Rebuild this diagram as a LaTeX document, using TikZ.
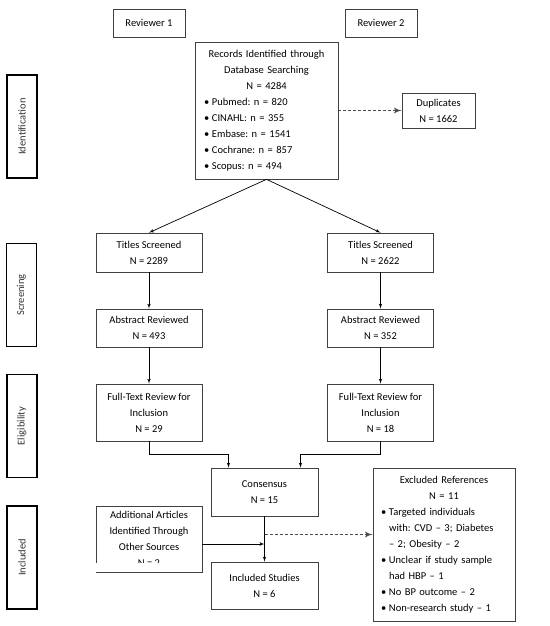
\documentclass[tikz,border=0pt]{standalone}
\usepackage{fontspec}
\setmainfont{Carlito}
\usetikzlibrary{arrows}
\newcommand{\listdot}{\makebox[8pt][l]{\textbullet}}
\newcommand{\listgap}{\hspace*{8pt}}
\frenchspacing
\begin{document}
\begin{tikzpicture}[x=1pt,y=-1pt]

\tikzset{box/.style = {draw=black!75, line width=0.7pt, align=center, inner sep=0pt, font=\fontsize{10.5}{16}\selectfont}}
\tikzset{stage/.style = {draw, line width=1.8pt, rotate=90, minimum width=103pt, minimum height=30pt, inner sep=0pt, text=black!80, font=\fontsize{10.5}{16}\selectfont}}
\tikzset{arr/.style = {->, > = latex', line width=0.7pt}}
\tikzset{dasharr/.style = {->, > = latex', line width=1.6pt, draw=black!70, dash pattern=on 3pt off 2pt}}
\useasboundingbox (0,0) rectangle (549,626);
%stages
\node[stage] (ident) at (22,126.5) {Identification};
\node[stage] (screen) at (21.5,295) {Screening};
\node[stage] (elig) at (22,426) {Eligibility};
\node[stage] (incl) at (22,557.5) {Included};
%reviewers
\node[box, minimum width=72pt, minimum height=28pt] (rev1) at (149,23) {Reviewer 1};
\node[box, minimum width=72pt, minimum height=28pt] (rev2) at (381,23) {Reviewer 2};
%identification
\node[box, text width=125pt, inner xsep=9pt, minimum height=137pt] (records) at (266.5,110.5)
  {\centering Records Identified through\\ Database Searching\\ N = 4284\par
   \raggedright \listdot Pubmed: n = 820\\ \listdot CINAHL: n = 355\\ \listdot Embase: n = 1541\\
   \listdot Cochrane: n = 857\\ \listdot Scopus: n = 494\par};
\node[box, minimum width=73pt, minimum height=35pt] (dup) at (438.5,110.5) {Duplicates\\ N = 1662};
%screening
\node[box, minimum width=106pt, minimum height=39pt] (titlesL) at (149,252.5) {Titles Screened\\ N = 2289};
\node[box, minimum width=106pt, minimum height=39pt] (titlesR) at (380.5,252.5) {Titles Screened\\ N = 2622};
\node[box, minimum width=106pt, minimum height=38pt] (absL) at (149,328) {Abstract Reviewed\\ N = 493};
\node[box, minimum width=106pt, minimum height=38pt] (absR) at (380.5,328) {Abstract Reviewed\\ N = 352};
%eligibility
\node[box, minimum width=106pt, minimum height=57pt] (fullL) at (149,412.5) {Full-Text Review for\\ Inclusion\\ N = 29};
\node[box, minimum width=106pt, minimum height=57pt] (fullR) at (380.5,412.5) {Full-Text Review for\\ Inclusion\\ N = 18};
%included
\node[box, minimum width=107pt, minimum height=48pt] (cons) at (264.5,492) {Consensus\\ N = 15};
\node[box, minimum width=106pt, minimum height=66pt] (add) at (149,539)
  {Additional Articles\\ Identified Through\\ Other Sources\\ N = 2};
% last line cut off by the box edge
\fill[white] ([xshift=0.6pt,yshift=0.6pt]add.south west) rectangle ([xshift=-0.6pt,yshift=9pt]add.south east);
\node[box, minimum width=107pt, minimum height=47pt] (incStudies) at (264.5,585.5) {Included Studies\\ N = 6};
\node[box, text width=126pt, inner xsep=8pt, minimum height=153pt] (excl) at (444,544.5)
  {\centering Excluded References\\ N = 11\par
   \raggedright \listdot Targeted individuals\\ \listgap with: CVD -- 3; Diabetes\\ \listgap -- 2; Obesity -- 2\\
   \listdot Unclear if study sample\\ \listgap had HBP -- 1\\ \listdot No BP outcome -- 2\\
   \listdot Non-research study -- 1\par};
%edges
\draw[dasharr] (records) -- (dup);
\draw[arr] (records.south) -- (titlesL.north);
\draw[arr] (records.south) -- (titlesR.north);
\draw[arr] (titlesL) -- (absL);
\draw[arr] (titlesR) -- (absR);
\draw[arr] (absL) -- (fullL);
\draw[arr] (absR) -- (fullR);
\draw[arr] (fullL.south) -- ++(0,13) -| ([xshift=-36pt]cons.north);
\draw[arr] (fullR.south) -- ++(0,13) -| ([xshift=36pt]cons.north);
\draw[arr] (cons) -- (incStudies);
\coordinate (addout) at ([yshift=-5pt]add.east);
\draw[arr] (addout) -- (addout -| cons.south);
\coordinate (exclin) at ([yshift=10pt]excl.west);
\draw[dasharr] (exclin -| cons.south) -- (exclin);

\end{tikzpicture}
\end{document}
